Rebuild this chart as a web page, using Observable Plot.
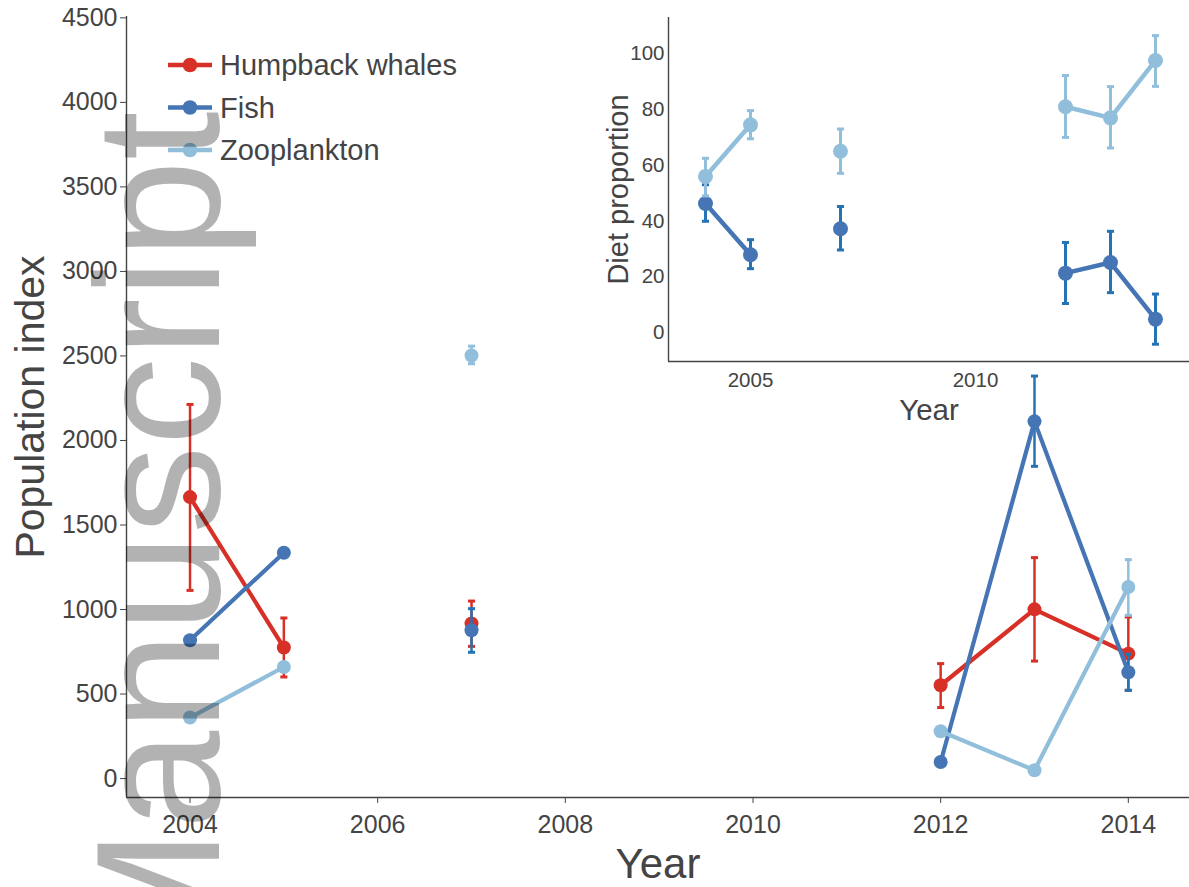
<!DOCTYPE html>
<html><head><meta charset="utf-8">
<script src="https://cdn.jsdelivr.net/npm/d3@7"></script>
<script src="https://cdn.jsdelivr.net/npm/@observablehq/plot@0.6"></script>
<style>
body{margin:0;background:#fff;}
#wrap{position:relative;width:1189px;height:887px;overflow:hidden;font-family:"Liberation Sans",Arial,sans-serif;background:#fff;}
#wrap > svg{position:absolute;}
</style></head><body><div id="wrap"></div>
<script>
// ---- data ----
const years = [2004, 2005, 2007, 2012, 2013, 2014];
const period = [1, 1, 2, 3, 3, 3]; // survey runs (lines break between them)
const seriesNames = ["Humpback whales", "Fish", "Zooplankton"];

const whales   = [1665, 775, 917, 552, 1001, 739];
const whalesLo = [1113, 601, 782, 420, 695, 522];
const whalesHi = [2213, 950, 1050, 680, 1307, 956];
const fish     = [818, 1336, 877, 98, 2113, 629];
const fishLo   = [null, null, 747, null, 1847, 522];
const fishHi   = [null, null, 1005, null, 2381, 736];
const zoo      = [361, 660, 2503, 280, 49, 1133];
const zooLo    = [null, null, 2454, null, null, 966];
const zooHi    = [null, null, 2558, null, null, 1295];

const dietFish   = [46.3, 27.9, 37.2, 21.3, 25.1, 4.8];
const dietFishLo = [39.9, 22.9, 29.6, 10.4, 14.3, -4.2];
const dietFishHi = [53.0, 33.3, 45.2, 32.3, 36.3, 13.8];
const dietZoo    = [56.0, 74.5, 65.0, 81.0, 77.0, 97.6];
const dietZooLo  = [49.0, 69.5, 57.1, 70.0, 66.2, 88.3];
const dietZooHi  = [62.5, 79.6, 73.0, 92.2, 88.2, 106.5];

const xTicks = [2004, 2006, 2008, 2010, 2012, 2014];
const yTicks = [0, 500, 1000, 1500, 2000, 2500, 3000, 3500, 4000, 4500];
const insetXTicks = [2005, 2010];
const insetYTicks = [0, 20, 40, 60, 80, 100];

// ---- styles ----
const lineColors = ["#d73027", "#4575b4", "#91bfdb"];
const errColors  = ["#d73027", "#2474b5", "#91bfdb"];
const ink = "#444444";
const font = "'Liberation Sans', Arial, sans-serif";

const mainXDomain = [2003.323, 2014.652];
const mainYDomain = [-112, 4508];
const insetXDomain = [2003.178, 2014.756];
const insetYDomain = [-10.4, 113];

function rowsFor(vals, lo, hi, name) {
  return years.map((y, i) => ({series: name, year: y, period: period[i], value: vals[i], lo: lo[i], hi: hi[i]}));
}
const mainSeries = [
  rowsFor(whales, whalesLo, whalesHi, seriesNames[0]),
  rowsFor(fish, fishLo, fishHi, seriesNames[1]),
  rowsFor(zoo, zooLo, zooHi, seriesNames[2])
];
const insetSeries = [
  null,
  rowsFor(dietFish, dietFishLo, dietFishHi, seriesNames[1]),
  rowsFor(dietZoo, dietZooLo, dietZooHi, seriesNames[2])
];

const capSymbol = {draw(ctx, size) { const w = Math.sqrt(size) * 0.5; ctx.moveTo(-w, 0); ctx.lineTo(w, 0); }};

function seriesMarks(rows, s, opt) {
  const err = rows.filter(d => d.lo != null && d.hi != null);
  return [
    Plot.ruleX(err, {x: "year", y1: "lo", y2: "hi", stroke: errColors[s], strokeWidth: opt.errW}),
    Plot.dot(err, {x: "year", y: "lo", symbol: capSymbol, r: opt.capR, fill: "none", stroke: errColors[s], strokeWidth: 3}),
    Plot.dot(err, {x: "year", y: "hi", symbol: capSymbol, r: opt.capR, fill: "none", stroke: errColors[s], strokeWidth: 3}),
    Plot.line(rows, {x: "year", y: "value", z: "period", stroke: lineColors[s], strokeWidth: opt.lineW}),
    Plot.dot(rows, {x: "year", y: "value", r: opt.dotR, fill: lineColors[s], stroke: "none"})
  ];
}

const wrap = document.getElementById("wrap");

// ---- main chart ----
const mainMarks = [
  Plot.axisY({ticks: yTicks, tickSize: 6, tickPadding: 3, tickFormat: d => String(d), label: null}),
  Plot.axisX({ticks: xTicks, tickSize: 6, tickPadding: 12, tickFormat: d => String(d), label: null}),
  Plot.ruleX([mainXDomain[0]], {stroke: ink, strokeWidth: 1.4}),
  Plot.ruleY([mainYDomain[0]], {stroke: ink, strokeWidth: 1.4}),
  Plot.text(["Population index"], {text: d => d, frameAnchor: "left", textAnchor: "middle", dx: -96, rotate: -90, fontSize: 41, fill: ink}),
  Plot.text(["Year"], {text: d => d, frameAnchor: "bottom", textAnchor: "middle", dy: 80, fontSize: 42, fill: ink})
];
mainSeries.forEach((rows, s) => mainMarks.push(...seriesMarks(rows, s, {errW: 2.5, capR: 4, lineW: 4.2, dotR: 7})));

const main = Plot.plot({
  width: 1189, height: 887,
  marginLeft: 126, marginRight: 0, marginTop: 16, marginBottom: 90,
  x: {domain: mainXDomain},
  y: {domain: mainYDomain},
  style: {fontFamily: font, fontSize: "25px", color: ink, background: "transparent", overflow: "visible"},
  marks: mainMarks
});
main.style.left = "0px"; main.style.top = "0px";
wrap.appendChild(main);

// ---- inset ----
const insetMarks = [
  Plot.axisY({ticks: insetYTicks, tickSize: 0, tickPadding: 4, tickFormat: d => String(d), label: null}),
  Plot.axisX({ticks: insetXTicks, tickSize: 0, tickPadding: 11, tickFormat: d => String(d), label: null}),
  Plot.ruleX([insetXDomain[0]], {stroke: ink, strokeWidth: 1.4}),
  Plot.ruleY([insetYDomain[0]], {stroke: ink, strokeWidth: 1.4}),
  Plot.text(["Diet proportion"], {text: d => d, frameAnchor: "left", textAnchor: "middle", dx: -50, rotate: -90, fontSize: 29, fill: ink}),
  Plot.text(["Year"], {text: d => d, frameAnchor: "bottom", textAnchor: "middle", dy: 58, fontSize: 29.5, fill: ink})
];
[1, 2].forEach(s => insetMarks.push(...seriesMarks(insetSeries[s], s, {errW: 3, capR: 4, lineW: 4.5, dotR: 7.5})));

const inset = Plot.plot({
  width: 589, height: 430,
  marginLeft: 68, marginRight: 0, marginTop: 17, marginBottom: 69,
  x: {domain: insetXDomain},
  y: {domain: insetYDomain},
  style: {fontFamily: font, fontSize: "20.5px", color: ink, background: "transparent", overflow: "visible"},
  marks: insetMarks
});
inset.style.left = "600px"; inset.style.top = "0px";
wrap.appendChild(inset);

// ---- legend ----
const legend = d3.create("svg").attr("width", 520).attr("height", 180)
  .style("left", "0px").style("top", "0px");
seriesNames.forEach((name, s) => {
  const g = legend.append("g").attr("transform", `translate(0,${65 + s * 42.5})`);
  g.append("line").attr("x1", 168).attr("x2", 212).attr("y1", 0).attr("y2", 0)
    .attr("stroke", lineColors[s]).attr("stroke-width", 4.5);
  g.append("circle").attr("cx", 190).attr("cy", 0).attr("r", 7.3).attr("fill", lineColors[s]);
  g.append("text").attr("x", 220).attr("y", 0).attr("dy", "0.35em")
    .attr("font-family", font).attr("font-size", 29).attr("fill", ink).text(name);
});
wrap.appendChild(legend.node());

// ---- watermark ----
const wm = d3.create("svg").attr("width", 1189).attr("height", 887)
  .style("left", "0px").style("top", "0px").style("pointer-events", "none");
wm.append("text").attr("transform", "translate(219,111) rotate(-90)")
  .attr("text-anchor", "end").attr("font-family", font).attr("font-size", 177)
  .attr("fill", "#000").attr("fill-opacity", 0.3).text("Manuscript");
wrap.appendChild(wm.node());
</script></body></html>
